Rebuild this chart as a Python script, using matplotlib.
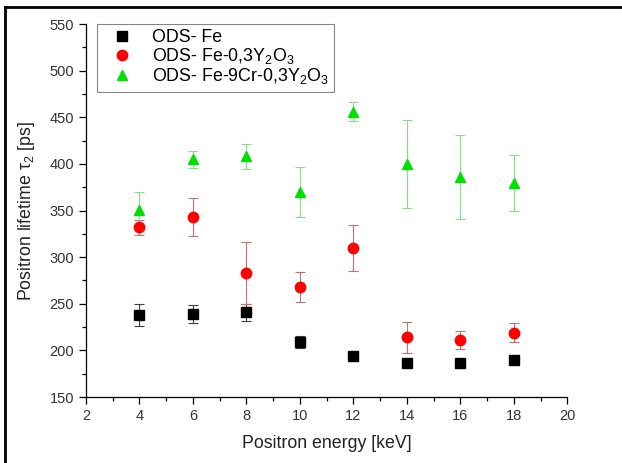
import numpy as np
import matplotlib
matplotlib.use("Agg")
import matplotlib.pyplot as plt
from matplotlib.lines import Line2D
from matplotlib.ticker import MultipleLocator

plt.rcParams["font.family"] = ["Liberation Sans", "DejaVu Sans"]
plt.rcParams["mathtext.fontset"] = "custom"
plt.rcParams["mathtext.rm"] = "Liberation Sans"
plt.rcParams["mathtext.it"] = "Liberation Sans:italic"

# Data
energy = [4, 6, 8, 10, 12, 14, 16, 18]

fe = [238, 239, 241, 209, 194, 187, 187, 190]
fe_err = [12, 10, 9, 6, 3, 3, 3, 3]

fe_y = [332, 343, 283, 268, 310, 214, 211, 219]
fe_y_err = [8, 20, 33, 16, 25, 17, 10, 10]

fe_cr_y = [351, 405, 408, 370, 456, 400, 386, 380]
fe_cr_y_err = [19, 9, 13, 27, 10, 47, 45, 30]

labels = ["ODS- Fe", "ODS- Fe-0,3Y$_2$O$_3$", "ODS- Fe-9Cr-0,3Y$_2$O$_3$"]

fig = plt.figure(figsize=(6.22, 4.63), dpi=100)
ax = fig.add_axes([0.138, 0.1425, 0.774, 0.8055])

ax.errorbar(energy, fe, yerr=fe_err, fmt="none", ecolor="#404040",
            elinewidth=0.8, capsize=3.5, capthick=0.8)
ax.errorbar(energy, fe_y, yerr=fe_y_err, fmt="none", ecolor="#c87070",
            elinewidth=0.8, capsize=3.5, capthick=0.8)
ax.errorbar(energy, fe_cr_y, yerr=fe_cr_y_err, fmt="none", ecolor="#88dd88",
            elinewidth=0.8, capsize=3.5, capthick=0.8)

ax.plot(energy, fe, "s", color="black", markersize=6.5, linestyle="none")
ax.plot(energy, fe_y, "o", color="#ff0000", markersize=7.5, linestyle="none")
ax.plot(energy, fe_cr_y, "^", color="#00e000", markersize=7.5, linestyle="none")

ax.set_xlim(2, 20)
ax.set_ylim(150, 550)
ax.xaxis.set_major_locator(MultipleLocator(2))
ax.xaxis.set_minor_locator(MultipleLocator(1))
ax.yaxis.set_major_locator(MultipleLocator(50))
ax.yaxis.set_minor_locator(MultipleLocator(25))
ax.tick_params(which="major", direction="out", length=5, width=0.9,
               labelsize=10.5, colors="black", labelcolor="#333333")
ax.tick_params(which="minor", direction="out", length=3, width=0.9)

for side in ["top", "right"]:
    ax.spines[side].set_visible(False)
for side in ["left", "bottom"]:
    ax.spines[side].set_linewidth(0.9)

ax.set_xlabel("Positron energy [keV]", fontsize=12.8, color="#222222", labelpad=9)
ax.set_ylabel("Positron lifetime τ$_2$ [ps]", fontsize=12.8, color="#222222", labelpad=9)

handles = [
    Line2D([], [], marker="s", color="black", linestyle="none", markersize=6.5),
    Line2D([], [], marker="o", color="#ff0000", linestyle="none", markersize=7.5),
    Line2D([], [], marker="^", color="#00e000", linestyle="none", markersize=7.5),
]
leg = ax.legend(handles, labels, loc="upper left", bbox_to_anchor=(0.023, 1.0),
                borderaxespad=0, fontsize=12.8, frameon=True, fancybox=False,
                edgecolor="#666666", handletextpad=0.56, handlelength=2.25,
                borderpad=0.3, labelspacing=0.0)
leg.get_frame().set_linewidth(0.8)

# outer frame lines (top and left) of the original figure
fig.add_artist(Line2D([0.008, 0.008], [0, 0.985], transform=fig.transFigure,
                      color="black", linewidth=2))
fig.add_artist(Line2D([0.008, 1.0], [0.985, 0.985], transform=fig.transFigure,
                      color="black", linewidth=2))

fig.savefig("out.png", dpi=100)
